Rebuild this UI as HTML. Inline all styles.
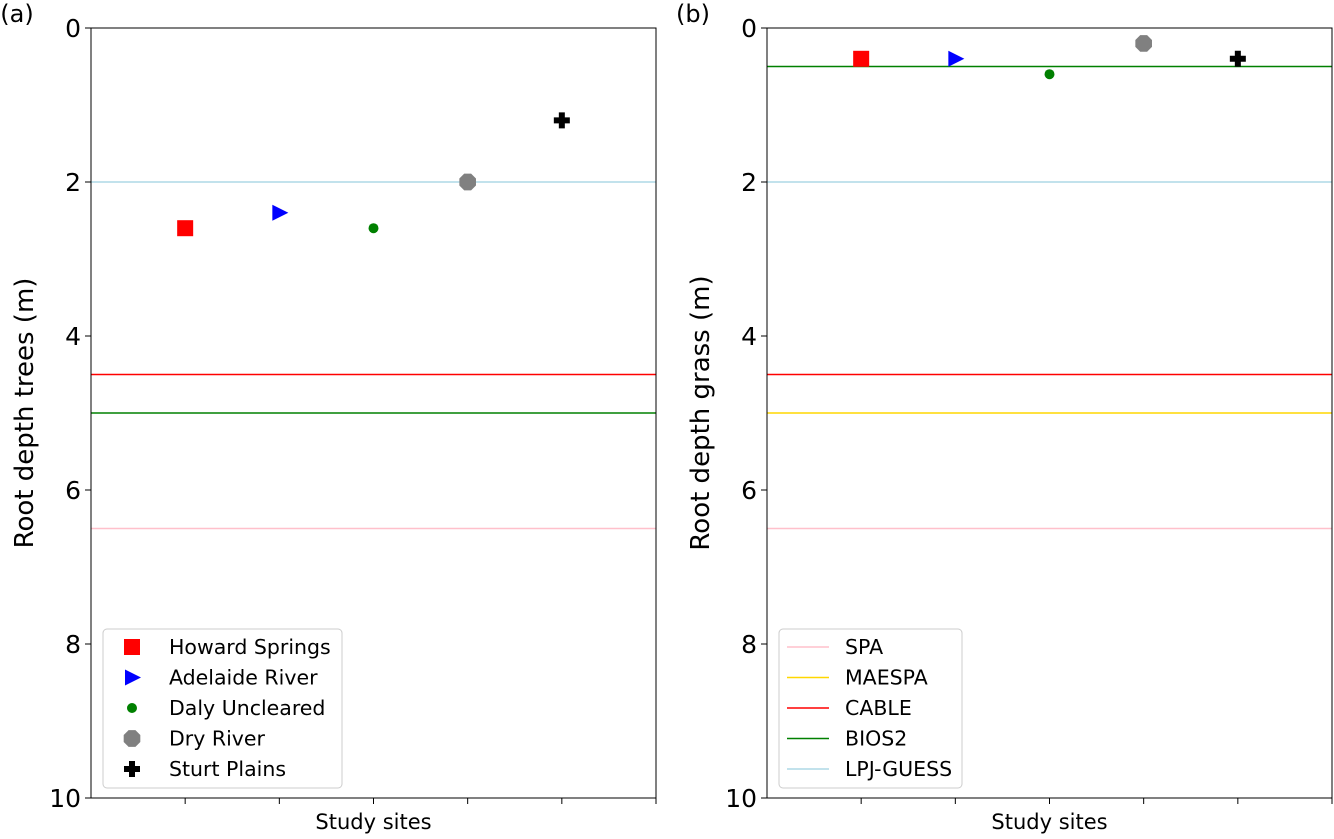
<!DOCTYPE html>
<html><head><meta charset="utf-8"><style>
html,body{margin:0;padding:0;background:#fff;}
svg text{font-family:"DejaVu Sans","Liberation Sans",sans-serif;}
</style></head><body>
<svg id="chart" width="1334" height="834" xmlns="http://www.w3.org/2000/svg"></svg>
<script>
const sites = ["Howard Springs","Adelaide River","Daly Uncleared","Dry River","Sturt Plains"];
const treeDepth = [2.6,2.4,2.6,2.0,1.2];
const grassDepth = [0.4,0.4,0.6,0.2,0.4];
const models = ["SPA","MAESPA","CABLE","BIOS2","LPJ-GUESS"];
const treeModelDepth = [6.5,null,4.5,5.0,2.0];
const grassModelDepth = [6.5,5.0,4.5,0.5,2.0];
const yTicks = [0,2,4,6,8,10];
const xTicks = [1,2,3,4,5,6];
const modelColors = ["#ffc0cb","#ffd700","#ff0000","#008000","#add8e6"];
const siteColors = ["#ff0000","#0000ff","#008000","#808080","#000000"];
const siteShapes = ["square","triangle","dot","octagon","plus"];

const NS="http://www.w3.org/2000/svg";
const svg=document.getElementById('chart');
function mk(tag,attrs,parent){const e=document.createElementNS(NS,tag);for(const k in attrs)e.setAttribute(k,attrs[k]);(parent||svg).appendChild(e);return e;}

function marker(g,shape,cx,cy,color){
  let e;
  if(shape==="square"){e=mk('rect',{x:cx-8,y:cy-8,width:16,height:16,fill:color},g);}
  else if(shape==="triangle"){e=mk('polygon',{points:`${cx-7},${cy-8} ${cx+9},${cy} ${cx-7},${cy+8}`,fill:color},g);}
  else if(shape==="dot"){e=mk('circle',{cx:cx,cy:cy,r:5,fill:color},g);}
  else if(shape==="octagon"){let p=[];for(let i=0;i<8;i++){const a=Math.PI/8+i*Math.PI/4;p.push((cx+9*Math.cos(a))+","+(cy+9*Math.sin(a)));}e=mk('polygon',{points:p.join(' '),fill:color},g);}
  else {e=mk('path',{d:`M${cx-3},${cy-8}h6v5h5v6h-5v5h-6v-5h-5v-6h5z`,fill:color},g);}
  return e;
}

function panel(x0,label,ylabel,vals,mvals,legendType){
  const x1=x0+565, y0=28, y1=798;
  const xs=v=>x0+(v/6)*(x1-x0);
  const ys=v=>y0+(v/10)*(y1-y0);
  const g=mk('g',{});
  
  
  mvals.forEach((v,i)=>{ if(v===null)return;
    const l=mk('line',{x1:x0,x2:x1,y1:ys(v),y2:ys(v),stroke:modelColors[i],'stroke-width':1.5},g);
    
    
  });
  vals.forEach((v,i)=>{
    const m=marker(g,siteShapes[i],xs(i+1),ys(v),siteColors[i]);
    
    
  });
  const frame=mk('rect',{x:x0,y:y0,width:x1-x0,height:y1-y0,fill:'none',stroke:'#000','stroke-width':1},g);
  
  
  yTicks.forEach(t=>{
    mk('line',{x1:x0-6,x2:x0,y1:ys(t),y2:ys(t),stroke:'#000'},g);
    const tx=mk('text',{x:x0-10,y:ys(t)+9,'text-anchor':'end','font-size':25},g);tx.textContent=t;
    
    
  });
  xTicks.forEach(t=>{mk('line',{x1:xs(t),x2:xs(t),y1:y1,y2:y1+6,stroke:'#000'},g);});
  const xl=mk('text',{x:(x0+x1)/2,y:829,'text-anchor':'middle','font-size':21},g);xl.textContent='Study sites';
  
  
  const yl=mk('text',{x:0,y:0,'text-anchor':'middle','font-size':26,transform:`translate(${x0-58},${(y0+y1)/2}) rotate(-90)`},g);yl.textContent=ylabel;
  
  
  const pl=mk('text',{x:x0-74,y:22,'text-anchor':'middle','font-size':24},g);pl.textContent='('+label+')';
  
  
  const lg=mk('g',{},g);
  
  
  const lx=x0+12, ly=629, lw=(legendType==='sites'?239:183), lh=159;
  mk('rect',{x:lx,y:ly,width:lw,height:lh,rx:4,fill:'#fff','fill-opacity':0.8,stroke:'#ccc'},lg);
  const names=legendType==='sites'?sites:models;
  names.forEach((n,i)=>{
    const cy=ly+18+i*30.5;
    if(legendType==='sites'){marker(lg,siteShapes[i],lx+29,cy,siteColors[i]);}
    else mk('line',{x1:lx+8,x2:lx+50,y1:cy,y2:cy,stroke:modelColors[i],'stroke-width':1.5},lg);
    const t=mk('text',{x:lx+66,y:cy+7,'font-size':20.5},lg);t.textContent=n;
    
    
  });
}
panel(91,'a','Root depth trees (m)',treeDepth,treeModelDepth,'sites');
panel(767,'b','Root depth grass (m)',grassDepth,grassModelDepth,'models');
</script>
</body></html>
